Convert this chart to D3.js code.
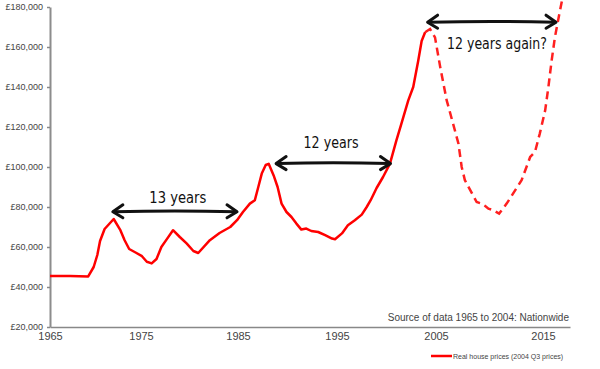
<!DOCTYPE html>
<html>
<head>
<meta charset="utf-8">
<script src="https://cdn.jsdelivr.net/npm/d3@7"></script>
<style>
  body { margin: 0; background: #fff; }
  svg { display: block; }
</style>
</head>
<body>
<div id="chart"></div>
<script>
const width = 600, height = 369;

// real house prices, 1965 to 2004 (Nationwide)
const years = [1965.0, 1967.2, 1969.2, 1969.8, 1970.2, 1970.5, 1971.0, 1971.6, 1972.0, 1972.7,
  1973.2, 1973.7, 1974.5, 1975.1, 1975.6, 1976.1, 1976.6, 1977.1, 1977.7, 1978.3,
  1979.0, 1979.7, 1980.4, 1980.9, 1982.1, 1983.1, 1984.2, 1984.9, 1985.5, 1986.2,
  1986.7, 1987.05, 1987.4, 1987.8, 1988.1, 1988.6, 1989.0, 1989.4, 1989.9, 1990.4,
  1990.9, 1991.4, 1991.9, 1992.4, 1993.1, 1993.8, 1994.5, 1994.8, 1995.5, 1996.1,
  1996.8, 1997.5, 1998.0, 1998.4, 1999.0, 1999.65, 2000.35, 2001.0, 2001.5, 2002.2,
  2002.7, 2003.2, 2003.55, 2003.9];
const prices = [45500, 45500, 45300, 50000, 56000, 63000, 69000, 72000, 74000, 68700,
  63400, 59000, 57000, 55400, 52600, 51800, 54000, 60000, 64200, 68400,
  65000, 61800, 58000, 57000, 63400, 67000, 70000, 73400, 77500, 81700,
  83400, 90000, 96700, 101000, 101600, 95800, 90000, 81700, 77500, 75000,
  71700, 68700, 69200, 68000, 67500, 65900, 64200, 63900, 66800, 70900,
  73400, 76200, 80000, 83400, 89500, 95000, 101700, 113300, 121600, 133300,
  140000, 153000, 163000, 167400];

// the dashed "what if" path after 2004
const guessYears = [2003.9, 2004.4, 2004.9, 2005.4, 2006.0, 2006.6, 2007.1, 2007.4, 2007.7, 2008.2,
  2008.8, 2009.25, 2009.6, 2009.9, 2010.35, 2010.9, 2011.6, 2012.2, 2013.0, 2013.8,
  2014.25, 2014.7, 2015.2, 2015.5, 2015.8, 2016.1, 2016.45, 2016.75];
const guessPrices = [167400, 169000, 164800, 149800, 133300, 121600, 111600, 100000, 93400, 88400,
  82500, 81700, 80500, 79200, 78400, 76700, 81700, 86700, 93400, 105000,
  107500, 116700, 128300, 140000, 153200, 164800, 174800, 183000];

const xTicks = [1965, 1975, 1985, 1995, 2005, 2015];
const yTicks = [20000, 40000, 60000, 80000, 100000, 120000, 140000, 160000, 180000];

const notes = [
  {from: 1971.8, to: 1985.0, at: 77600, label: "13 years", tx: 1978.8, ty: 81900, w: 57},
  {from: 1988.75, to: 2000.5, at: 101700, label: "12 years", tx: 1994.4, ty: 109300, w: 55},
  {from: 2004.05, to: 2016.3, at: 172400, label: "12 years again?", tx: 2010.7, ty: 159100, w: 100}
];

const svg = d3.select("#chart").append("svg")
  .attr("width", width)
  .attr("height", height);

// the year axis in the original is not quite even, so follow its labels
const x = d3.scaleLinear()
  .domain([1965, 1975, 1985, 1995, 2005, 2015, 2017.5])
  .range([50, 141, 238, 337, 436, 543, 570]);

const y = d3.scaleLinear()
  .domain([20000, 180000])
  .range([327, 7]);

const xAxis = g => g
  .attr("transform", `translate(0,${y(20000)})`)
  .call(d3.axisBottom(x).tickValues(xTicks).tickSize(0).tickPadding(5).tickFormat(d3.format("d")))
  .call(g => g.select(".domain").attr("stroke", "#888").attr("stroke-width", 1.5))
  .call(g => g.selectAll("text")
    .attr("fill", "#444")
    .style("font", "11px 'Liberation Sans', Arial, sans-serif"));

const yAxis = g => g
  .attr("transform", `translate(${x(1965)},0)`)
  .call(d3.axisLeft(y).tickValues(yTicks).tickSize(3).tickSizeOuter(0).tickPadding(4)
    .tickFormat(d => "£" + d3.format(",")(d)))
  .call(g => g.select(".domain").attr("stroke", "#8c8c8c").attr("stroke-width", 2))
  .call(g => g.selectAll(".tick line").attr("stroke", "#888").attr("stroke-width", 1.5))
  .call(g => g.selectAll("text")
    .attr("fill", "#444")
    .style("font", "9px 'Liberation Sans', Arial, sans-serif"));

svg.append("g").call(xAxis);
svg.append("g").call(yAxis);

const line = d3.line()
  .x(d => x(d[0]))
  .y(d => y(d[1]));

svg.append("path")
  .datum(d3.zip(guessYears, guessPrices))
  .attr("fill", "none")
  .attr("stroke", "#ff2020")
  .attr("stroke-width", 2.5)
  .attr("stroke-dasharray", "8,5")
  .attr("d", line);

svg.append("path")
  .datum(d3.zip(years, prices))
  .attr("fill", "none")
  .attr("stroke", "#ff0000")
  .attr("stroke-width", 2.5)
  .attr("stroke-linejoin", "round")
  .attr("d", line);

// hand drawn looking arrows
const arrows = svg.append("g")
  .attr("fill", "none")
  .attr("stroke", "#111")
  .attr("stroke-width", 3)
  .attr("stroke-linecap", "round")
  .attr("stroke-linejoin", "round");

notes.forEach(n => {
  const x0 = x(n.from), x1 = x(n.to), yy = y(n.at);
  arrows.append("path")
    .attr("d", `M${x0 + 2},${yy} Q${(x0 + x1) / 2},${yy - 1.5} ${x1 - 2},${yy}`);
  arrows.append("path")
    .attr("d", `M${x0 + 11},${yy - 7} L${x0 + 1},${yy} L${x0 + 11},${yy + 6}`);
  arrows.append("path")
    .attr("d", `M${x1 - 11},${yy - 7} L${x1 - 1},${yy} L${x1 - 11},${yy + 6}`);

  svg.append("text")
    .attr("x", x(n.tx))
    .attr("y", y(n.ty))
    .attr("text-anchor", "middle")
    .attr("textLength", n.w)
    .attr("lengthAdjust", "spacingAndGlyphs")
    .style("font", "15px 'DejaVu Sans', sans-serif")
    .attr("fill", "#111")
    .text(n.label);
});

svg.append("text")
  .attr("x", 569)
  .attr("y", 321)
  .attr("text-anchor", "end")
  .attr("fill", "#444")
  .style("font", "10px 'Liberation Sans', Arial, sans-serif")
  .text("Source of data 1965 to 2004: Nationwide");

// legend
svg.append("line")
  .attr("x1", 431).attr("x2", 452)
  .attr("y1", 356).attr("y2", 356)
  .attr("stroke", "#ff0000")
  .attr("stroke-width", 2.5);

svg.append("text")
  .attr("x", 453)
  .attr("y", 358.5)
  .attr("fill", "#444")
  .style("font", "7px 'Liberation Sans', Arial, sans-serif")
  .text("Real house prices (2004 Q3 prices)");
</script>
</body>
</html>
